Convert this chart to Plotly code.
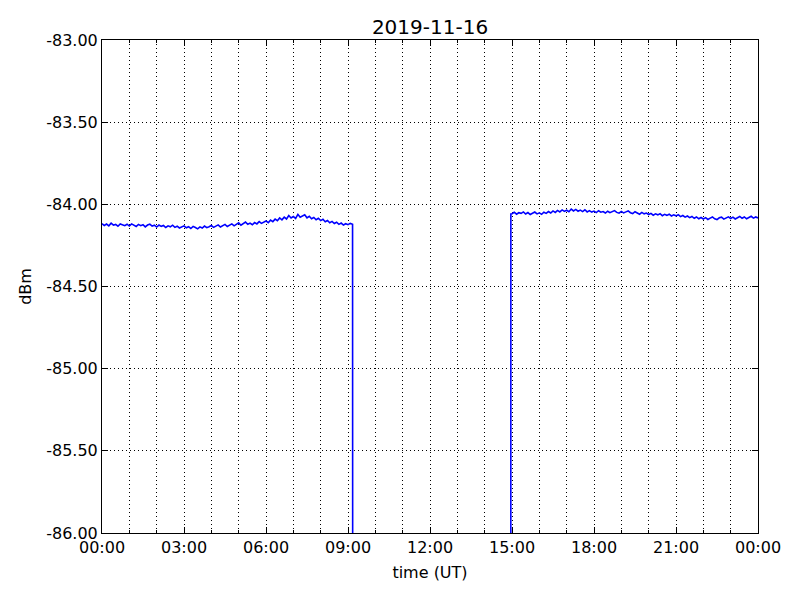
import pandas as pd
import plotly.graph_objects as go

# --- data (dBm), 5-minute samples ---
morning_start = "2019-11-16 00:00"
morning_vals = [
    -84.118, -84.129, -84.120, -84.131, -84.115, -84.127, -84.122, -84.133, -84.119, -84.126, -84.130, -84.121,
    -84.132, -84.119, -84.128, -84.135, -84.122, -84.130, -84.124, -84.137, -84.126, -84.121, -84.133, -84.127,
    -84.138, -84.126, -84.134, -84.129, -84.141, -84.131, -84.137, -84.127, -84.140, -84.133, -84.144, -84.135,
    -84.131, -84.143, -84.136, -84.147, -84.134, -84.141, -84.149, -84.137, -84.144, -84.132, -84.142, -84.136,
    -84.129, -84.140, -84.133, -84.125, -84.138, -84.130, -84.122, -84.135, -84.127, -84.119, -84.131, -84.124,
    -84.113, -84.127, -84.118, -84.108, -84.121, -84.114, -84.124, -84.111, -84.119, -84.105, -84.116, -84.109,
    -84.101, -84.112, -84.096, -84.105, -84.090, -84.100, -84.083, -84.094, -84.078, -84.089, -84.068, -84.083,
    -84.074, -84.086, -84.061, -84.079, -84.070, -84.064, -84.082, -84.073, -84.088, -84.080, -84.094, -84.085,
    -84.099, -84.091, -84.106, -84.098, -84.112, -84.104, -84.117, -84.109, -84.122, -84.114, -84.126, -84.118,
    -84.124, -84.116, -84.122,
]

gap_times = ["2019-11-16 09:12", "2019-11-16 14:57"]
gap_vals = [-100.0, -100.0]

afternoon_first_time = "2019-11-16 14:57:30"
afternoon_first_val = -84.058
afternoon_start = "2019-11-16 15:00"
afternoon_vals = [
    -84.057, -84.048, -84.060, -84.051, -84.055, -84.046, -84.059, -84.050, -84.062, -84.053, -84.047, -84.058,
    -84.052, -84.061, -84.048, -84.055, -84.044, -84.053, -84.040, -84.049, -84.037, -84.046, -84.034, -84.043,
    -84.036, -84.045, -84.029, -84.040, -84.031, -84.042, -84.035, -84.044, -84.033, -84.046, -84.038, -84.047,
    -84.041, -84.050, -84.039, -84.048, -84.044, -84.053, -84.042, -84.051, -84.045, -84.038, -84.049, -84.054,
    -84.043, -84.052, -84.046, -84.040, -84.051, -84.056, -84.045, -84.054, -84.060, -84.049, -84.058, -84.053,
    -84.062, -84.055, -84.066, -84.058, -84.064, -84.057, -84.069, -84.061, -84.067, -84.060, -84.071, -84.064,
    -84.070, -84.063, -84.075, -84.068, -84.078, -84.071, -84.081, -84.074, -84.085, -84.077, -84.088, -84.080,
    -84.089, -84.081, -84.092, -84.084, -84.077, -84.088, -84.093, -84.082, -84.078, -84.090, -84.083, -84.076,
    -84.086, -84.078, -84.089, -84.080, -84.074, -84.085, -84.077, -84.088, -84.079, -84.073, -84.084, -84.077,
    -84.083,
]

x_tickvals = ["2019-11-16 00:00", "2019-11-16 03:00", "2019-11-16 06:00", "2019-11-16 09:00",
              "2019-11-16 12:00", "2019-11-16 15:00", "2019-11-16 18:00", "2019-11-16 21:00",
              "2019-11-17 00:00"]
x_ticktext = ["00:00", "03:00", "06:00", "09:00", "12:00", "15:00", "18:00", "21:00", "00:00"]
y_tickvals = [-83.0, -83.5, -84.0, -84.5, -85.0, -85.5, -86.0]
y_ticktext = ["-83.00", "-83.50", "-84.00", "-84.50", "-85.00", "-85.50", "-86.00"]

# --- build series ---
t_morning = list(pd.date_range(morning_start, periods=len(morning_vals), freq="5min"))
t_after = list(pd.date_range(afternoon_start, periods=len(afternoon_vals), freq="5min"))
times = t_morning + [pd.Timestamp(t) for t in gap_times] + [pd.Timestamp(afternoon_first_time)] + t_after
vals = morning_vals + gap_vals + [afternoon_first_val] + afternoon_vals

font = "DejaVu Sans"
fig = go.Figure()
fig.add_trace(go.Scatter(x=times, y=vals, mode="lines",
                         line=dict(color="#0000ff", width=1.6), showlegend=False))

# the page body has an 8px margin, so the figure is drawn 8px in from the top-left
W, H = 792, 592
grid_dash = "1px,3px"
fig.update_layout(
    width=W, height=H,
    margin=dict(l=94, r=42, t=32, b=67),
    paper_bgcolor="white", plot_bgcolor="white",
    font=dict(family=font, size=16, color="black"),
    title=dict(text="2019-11-16", x=0.5, xref="paper", y=1 - 19 / H, yref="container",
               yanchor="middle", xanchor="center", font=dict(size=20, family=font, color="black")),
)
fig.update_xaxes(
    type="date",
    range=["2019-11-16 00:00", "2019-11-17 00:00"],
    tickmode="array", tickvals=x_tickvals, ticktext=x_ticktext,
    ticks="inside", ticklen=6, tickcolor="black", tickwidth=1,
    showline=True, linecolor="black", linewidth=1, mirror="allticks",
    showgrid=True, gridcolor="black", gridwidth=1, griddash=grid_dash,
    minor=dict(dtick=3600000, tick0="2019-11-16 00:00", ticks="inside", ticklen=3,
               tickcolor="black", showgrid=True, gridcolor="black", gridwidth=1, griddash=grid_dash),
    zeroline=False,
    title=dict(text="time (UT)", standoff=10, font=dict(size=16, family=font)),
    tickfont=dict(size=16, family=font),
)
fig.update_yaxes(
    range=[-86.0, -83.0],
    tickmode="array", tickvals=y_tickvals, ticktext=y_ticktext,
    ticks="inside", ticklen=6, tickcolor="black", tickwidth=1,
    showline=True, linecolor="black", linewidth=1, mirror="allticks",
    showgrid=True, gridcolor="black", gridwidth=1, griddash=grid_dash,
    zeroline=False,
    title=dict(text="dBm", standoff=10, font=dict(size=16, family=font)),
    tickfont=dict(size=16, family=font),
)

fig.write_html("out.html")
